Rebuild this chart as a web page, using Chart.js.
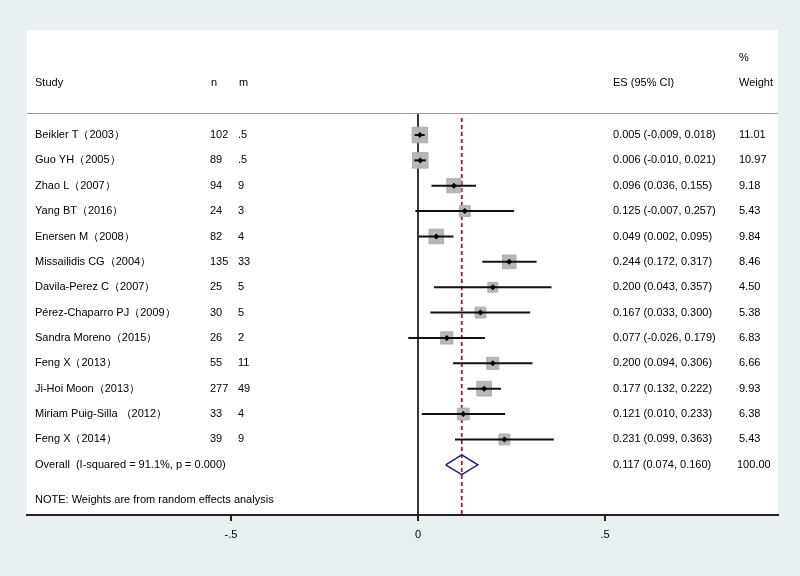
<!DOCTYPE html>
<html>
<head>
<meta charset="utf-8">
<script src="https://cdn.jsdelivr.net/npm/chart.js@4"></script>
<style>
  html, body { margin: 0; padding: 0; background: #e8f0f3; }
  #forest { display: block; }
</style>
</head>
<body>
<canvas id="forest" width="800" height="576"></canvas>
<script>
// Study data
const studies = [
  'Beikler T（2003）', 'Guo YH（2005）', 'Zhao L（2007）', 'Yang BT（2016）',
  'Enersen M（2008）', 'Missailidis CG（2004）', 'Davila-Perez C（2007）',
  'Pérez-Chaparro PJ（2009）', 'Sandra Moreno（2015）', 'Feng X（2013）',
  'Ji-Hoi Moon（2013）', 'Miriam Puig-Silla （2012）', 'Feng X（2014）'
];
const nValues = ['102', '89', '94', '24', '82', '135', '25', '30', '26', '55', '277', '33', '39'];
const mValues = ['.5', '.5', '9', '3', '4', '33', '5', '5', '2', '11', '49', '4', '9'];
const es = [0.005, 0.006, 0.096, 0.125, 0.049, 0.244, 0.200, 0.167, 0.077, 0.200, 0.177, 0.121, 0.231];
const lower = [-0.009, -0.010, 0.036, -0.007, 0.002, 0.172, 0.043, 0.033, -0.026, 0.094, 0.132, 0.010, 0.099];
const upper = [0.018, 0.021, 0.155, 0.257, 0.095, 0.317, 0.357, 0.300, 0.179, 0.306, 0.222, 0.233, 0.363];
const weights = [11.01, 10.97, 9.18, 5.43, 9.84, 8.46, 4.50, 5.38, 6.83, 6.66, 9.93, 6.38, 5.43];

const overallLabel = 'Overall  (I-squared = 91.1%, p = 0.000)';
const overallES = 0.117;
const overallLower = 0.074;
const overallUpper = 0.160;
const overallWeight = 100.00;
const noteText = 'NOTE: Weights are from random effects analysis';

const tickValues = [-0.5, 0, 0.5];
const tickLabels = ['-.5', '0', '.5'];

// layout helpers (row index on y axis)
const X_MIN = -1.0455, X_MAX = 0.9626;
const Y_TOP = -4.14, Y_BOTTOM = 14.98;
const overallRow = studies.length;
const noteRow = 14.4;
const headerRule = -0.87;
const FONT = '11px "Liberation Sans", Arial, sans-serif';
const TEXT = '#000';

const fmt = v => v.toFixed(3);
const esText = (e, l, u) => fmt(e) + ' (' + fmt(l) + ', ' + fmt(u) + ')';

// CI whiskers, one line per study
const ciSets = studies.map((s, i) => ({
  type: 'scatter',
  data: [{ x: lower[i], y: i }, { x: upper[i], y: i }],
  showLine: true,
  borderColor: '#111',
  borderWidth: 2,
  pointRadius: 0,
  order: 1
}));

const halfH = 0.39;
const datasets = [
  {
    // point estimates
    type: 'scatter',
    data: es.map((v, i) => ({ x: v, y: i })),
    pointStyle: 'rectRot',
    pointRadius: 3,
    backgroundColor: '#000',
    borderColor: '#000',
    borderWidth: 0,
    order: 0
  },
  ...ciSets,
  {
    // weight boxes, area ~ weight
    type: 'scatter',
    data: es.map((v, i) => ({ x: v, y: i })),
    pointStyle: 'rect',
    pointRadius: weights.map(w => 3.3 * Math.sqrt(w)),
    backgroundColor: '#b7b7b7',
    borderColor: '#adadad',
    borderWidth: 1,
    order: 2
  },
  {
    // pooled estimate diamond
    type: 'scatter',
    data: [
      { x: overallLower, y: overallRow },
      { x: overallES, y: overallRow - halfH },
      { x: overallUpper, y: overallRow },
      { x: overallES, y: overallRow + halfH },
      { x: overallLower, y: overallRow }
    ],
    showLine: true,
    borderColor: '#1f1f80',
    borderWidth: 1.5,
    pointRadius: 0,
    order: 1
  },
  {
    // overall effect reference line
    type: 'scatter',
    data: [{ x: overallES, y: -0.67 }, { x: overallES, y: Y_BOTTOM }],
    showLine: true,
    borderColor: '#a51c2c',
    borderWidth: 1.8,
    borderDash: [4, 3],
    pointRadius: 0,
    order: 3
  },
  {
    // no-effect line
    type: 'scatter',
    data: [{ x: 0, y: headerRule }, { x: 0, y: Y_BOTTOM }],
    showLine: true,
    borderColor: '#222',
    borderWidth: 1.8,
    pointRadius: 0,
    order: 3
  }
];

const panelPlugin = {
  id: 'panel',
  beforeDraw(chart) {
    const { ctx, chartArea: a } = chart;
    ctx.save();
    ctx.fillStyle = '#e8f0f3';
    ctx.fillRect(0, 0, chart.width, chart.height);
    ctx.fillStyle = '#ffffff';
    ctx.fillRect(a.left, a.top, a.right - a.left, a.bottom - a.top);
    ctx.restore();
  }
};

const tablePlugin = {
  id: 'table',
  afterDraw(chart) {
    const { ctx, chartArea: a } = chart;
    const y = chart.scales.y;
    ctx.save();
    ctx.font = FONT;
    ctx.fillStyle = TEXT;
    ctx.textBaseline = 'middle';
    ctx.textAlign = 'left';

    // header
    const hy = y.getPixelForValue(-2.05);
    ctx.fillText('Study', 35, hy);
    ctx.fillText('n', 211, hy);
    ctx.fillText('m', 239, hy);
    ctx.fillText('ES (95% CI)', 613, hy);
    ctx.fillText('Weight', 739, hy);
    ctx.fillText('%', 739, y.getPixelForValue(-3.04));

    // rule under header
    const ry = Math.round(y.getPixelForValue(headerRule)) + 0.5;
    ctx.strokeStyle = '#9a9a9a';
    ctx.lineWidth = 1;
    ctx.beginPath();
    ctx.moveTo(a.left, ry);
    ctx.lineTo(a.right, ry);
    ctx.stroke();

    // study rows
    studies.forEach((s, i) => {
      const py = y.getPixelForValue(i);
      ctx.fillText(s, 35, py);
      ctx.fillText(nValues[i], 210, py);
      ctx.fillText(mValues[i], 238, py);
      ctx.fillText(esText(es[i], lower[i], upper[i]), 613, py);
      ctx.fillText(weights[i].toFixed(2), 739, py);
    });

    const oy = y.getPixelForValue(overallRow);
    ctx.fillText(overallLabel, 35, oy);
    ctx.fillText(esText(overallES, overallLower, overallUpper), 613, oy);
    ctx.fillText(overallWeight.toFixed(2), 737, oy);

    ctx.fillText(noteText, 35, y.getPixelForValue(noteRow));
    ctx.restore();
  }
};

new Chart(document.getElementById('forest'), {
  type: 'scatter',
  data: { datasets },
  options: {
    responsive: false,
    animation: false,
    layout: { padding: { left: 27, right: 22, top: 30, bottom: 0 } },
    plugins: {
      legend: { display: false },
      tooltip: { enabled: false }
    },
    scales: {
      x: {
        type: 'linear',
        position: 'bottom',
        min: X_MIN,
        max: X_MAX,
        afterBuildTicks: s => { s.ticks = tickValues.map(v => ({ value: v })); },
        afterFit: s => { s.height = 61; },
        ticks: {
          callback: v => tickLabels[tickValues.indexOf(v)],
          color: TEXT,
          font: { family: '"Liberation Sans", Arial, sans-serif', size: 11 },
          padding: 7,
          maxRotation: 0,
          autoSkip: false
        },
        grid: { drawOnChartArea: false, tickLength: 6, color: '#222', lineWidth: 2 },
        border: { color: '#222', width: 2 }
      },
      y: {
        type: 'linear',
        display: false,
        reverse: true,
        min: Y_TOP,
        max: Y_BOTTOM
      }
    }
  },
  plugins: [panelPlugin, tablePlugin]
});
</script>
</body>
</html>
